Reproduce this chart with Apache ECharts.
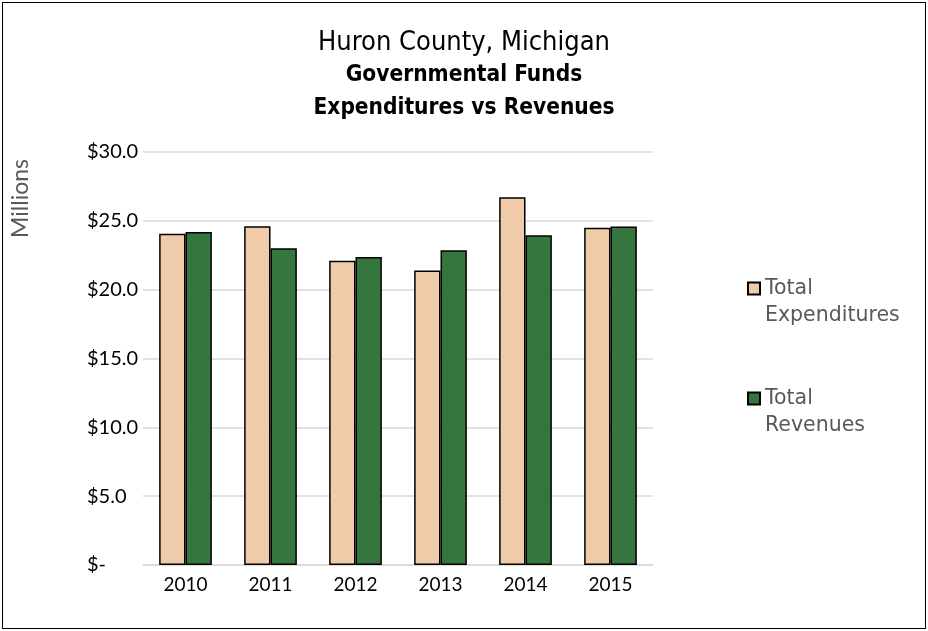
<!DOCTYPE html>
<html>
<head>
<meta charset="utf-8">
<script src="https://cdn.jsdelivr.net/npm/echarts@6/dist/echarts.min.js"></script>
<style>
    html, body { margin: 0; padding: 0; background: #fff; }
    #chart { position: absolute; left: 2px; top: 2px; width: 922px; height: 625px; border: 1px solid #000; }
</style>
</head>
<body>
<div id="chart"></div>
<script>
var years = ['2010', '2011', '2012', '2013', '2014', '2015'];
var expenditures = [24.07, 24.6, 22.1, 21.4, 26.72, 24.5];
var revenues = [24.19, 23.0, 22.37, 22.87, 23.95, 24.58];
var seriesNames = ['Total Expenditures', 'Total Revenues'];

var titleFont = '"DejaVu Sans Condensed", "DejaVu Sans", sans-serif';
var axisFont = 'Lato, "Open Sans", sans-serif';
var legendFont = '"DejaVu Sans", sans-serif';

var chart = echarts.init(document.getElementById('chart'));
var option = {
    animation: false,
    title: {
        text: '{a|Huron County, Michigan}\n{b|Governmental Funds}\n{b|Expenditures vs Revenues}',
        left: 'center',
        top: 18,
        textStyle: {
            rich: {
                a: { fontFamily: titleFont, fontSize: 27, fontWeight: 'normal', color: '#000', lineHeight: 33 },
                b: { fontFamily: titleFont, fontSize: 22.5, fontWeight: 'bold', color: '#000', lineHeight: 33 }
            }
        }
    },
    //图例放在右侧，两行文字，前面加空行让色块对齐第一行
    legend: {
        orient: 'vertical',
        left: 744,
        top: 245,
        padding: 0,
        itemGap: 29,
        itemWidth: 12,
        itemHeight: 12,
        icon: 'rect',
        formatter: function (name) {
            return '\n' + name.replace(' ', '\n');
        },
        textStyle: { fontFamily: legendFont, fontSize: 20.5, color: '#595959', lineHeight: 27 },
        data: seriesNames
    },
    grid: { left: 140, right: 272, top: 149, bottom: 63 },
    xAxis: {
        type: 'category',
        data: years,
        axisTick: { show: false },
        axisLine: { lineStyle: { color: '#d9d9d9', width: 1.5 } },
        axisLabel: { color: '#000', fontSize: 19, margin: 10, fontFamily: axisFont }
    },
    yAxis: {
        type: 'value',
        min: 0,
        max: 30,
        interval: 5,
        axisLine: { show: false },
        axisTick: { show: false },
        splitLine: { lineStyle: { color: '#d9d9d9', width: 1.5 } },
        axisLabel: {
            color: '#000',
            fontSize: 20,
            align: 'left',
            margin: 56,
            fontFamily: axisFont,
            formatter: function (v) {
                return v === 0 ? '$-' : '$' + v.toFixed(1);
            }
        }
    },
    graphic: [{
        type: 'text',
        left: 6,
        top: 156,
        rotation: Math.PI / 2,
        style: { text: 'Millions', fontSize: 23, fill: '#595959', fontFamily: axisFont }
    }],
    series: [{
        name: seriesNames[0],
        type: 'bar',
        data: expenditures,
        barGap: '0%',
        barCategoryGap: '38%',
        itemStyle: { color: '#F0CBAA', borderColor: '#000', borderWidth: 1.5 }
    }, {
        name: seriesNames[1],
        type: 'bar',
        data: revenues,
        itemStyle: { color: '#35763F', borderColor: '#000', borderWidth: 1.5 }
    }]
};
chart.setOption(option);
</script>
</body>
</html>
